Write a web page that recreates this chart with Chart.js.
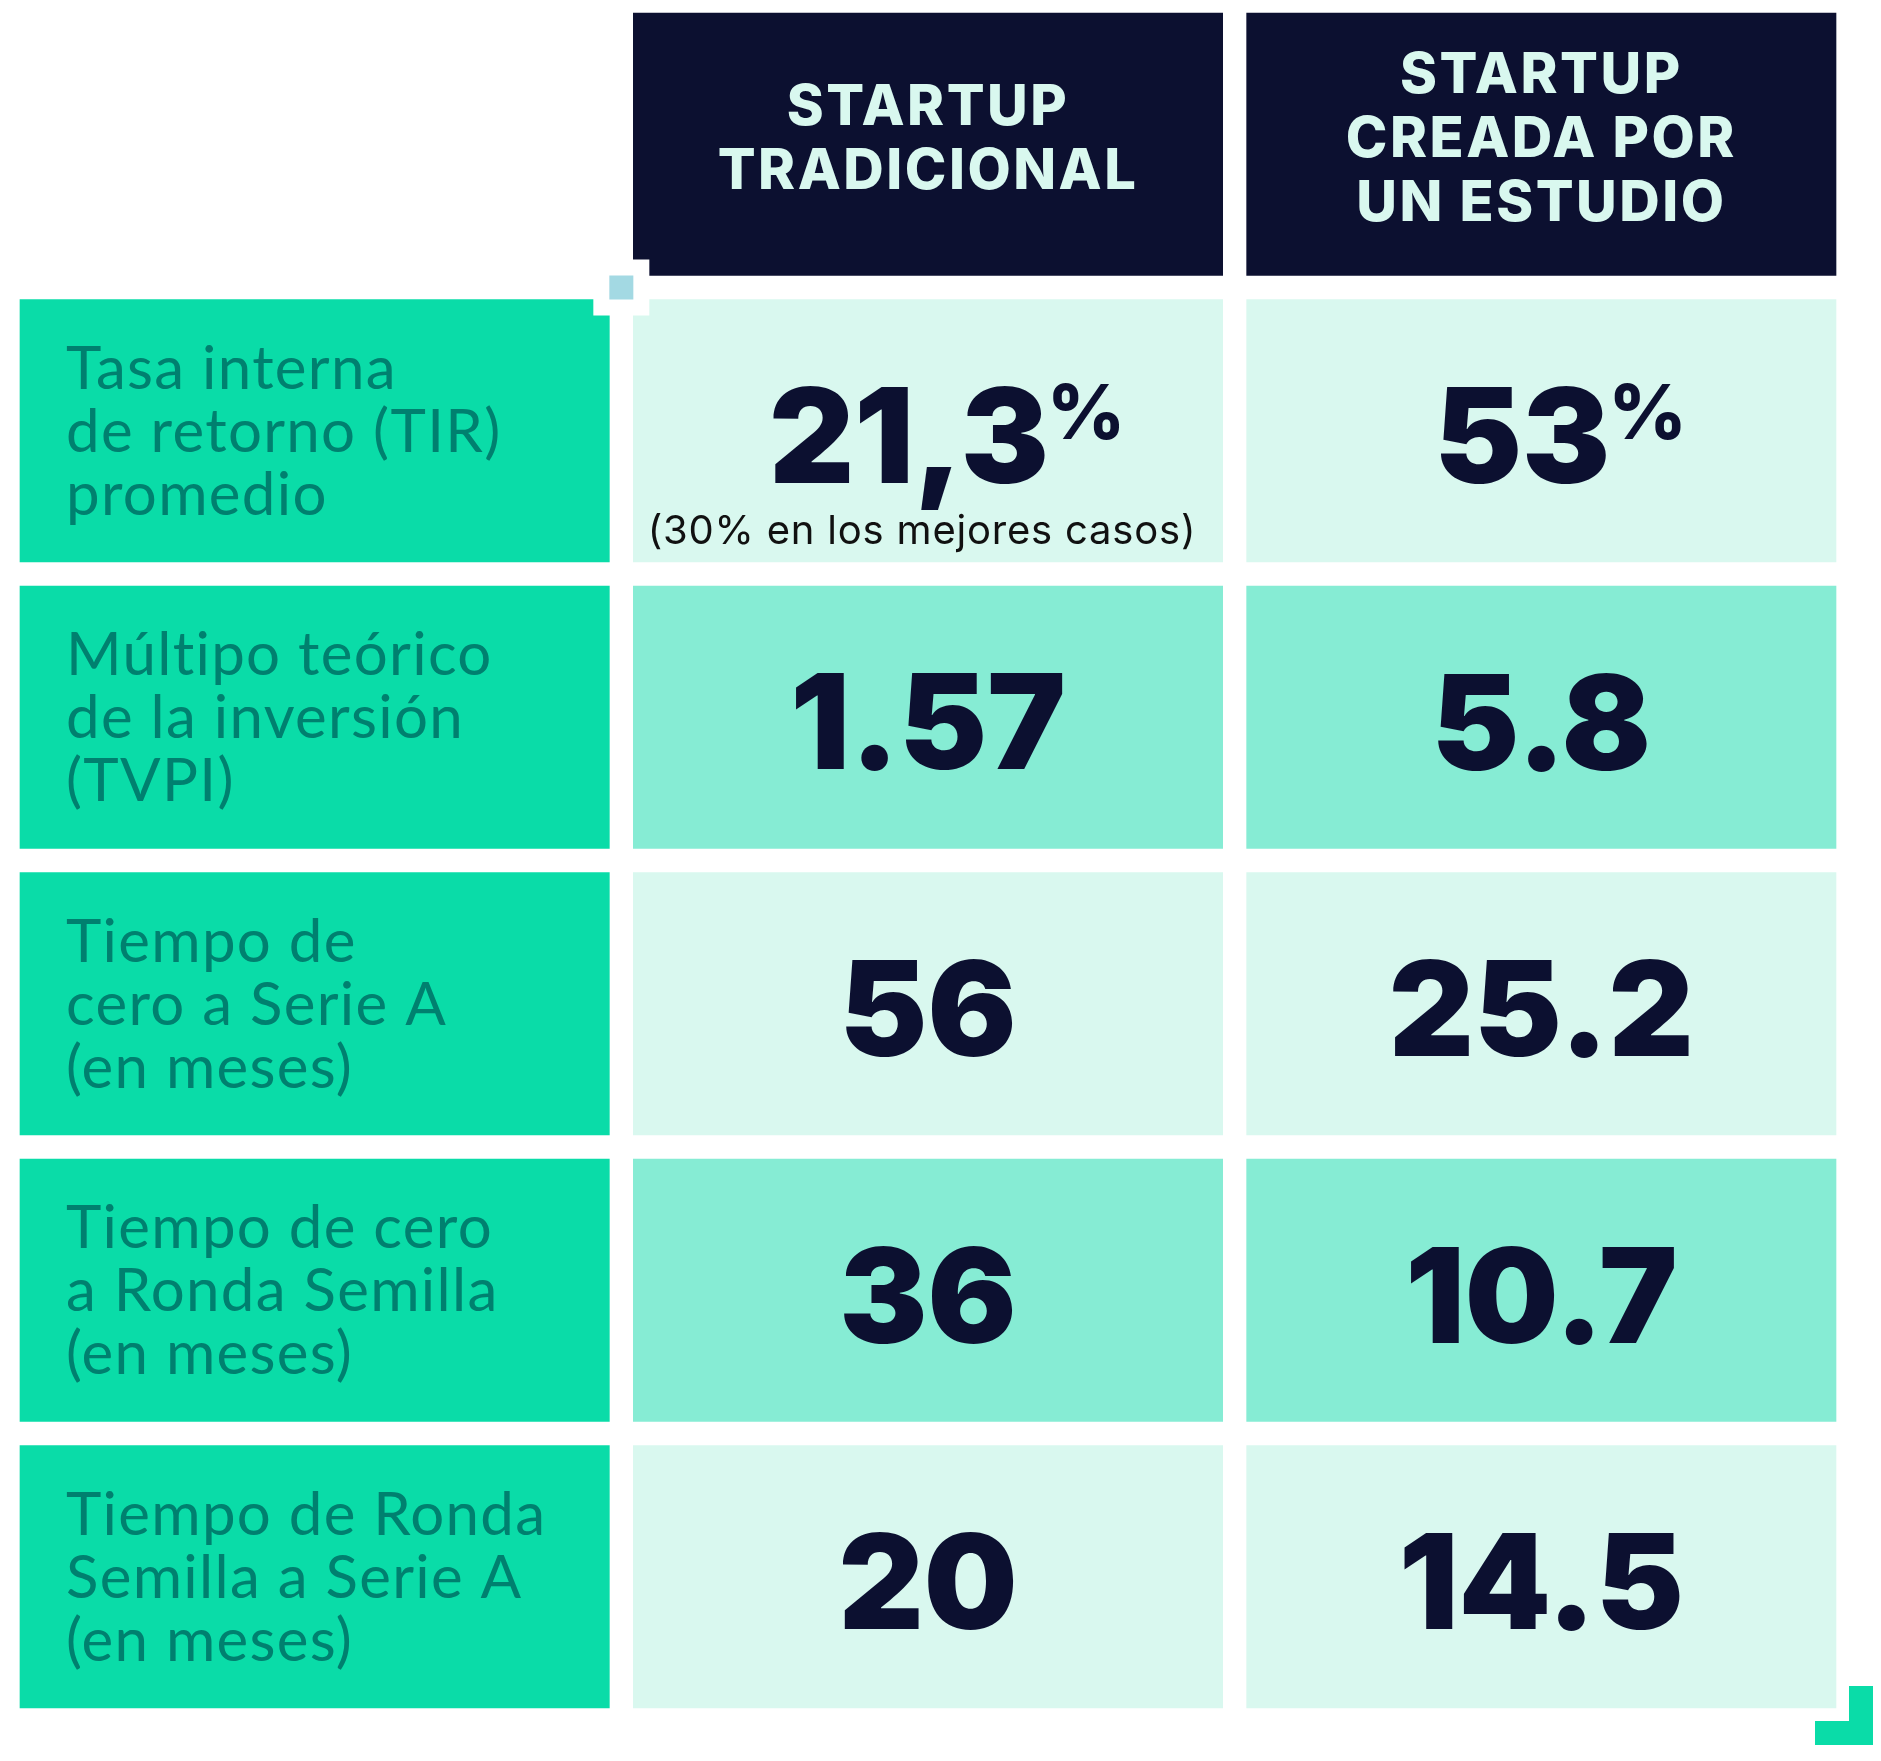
<!DOCTYPE html>
<html lang="es">
<head>
<meta charset="utf-8">
<title>Startup tradicional vs. startup creada por un estudio</title>
<script src="https://cdn.jsdelivr.net/npm/chart.js@4.4.1/dist/chart.umd.min.js"></script>
<style>
  html, body { margin: 0; padding: 0; background: #fff; }
  #wrap { position: relative; width: 1881px; height: 1761px; }
</style>
</head>
<body>
<div id="wrap"><canvas id="chart"></canvas></div>
<script>
// Datos de la tabla
const columnas = [['STARTUP', 'TRADICIONAL'], ['STARTUP', 'CREADA POR', 'UN ESTUDIO']];
const filas = [
  ['Tasa interna', 'de retorno (TIR)', 'promedio'],
  ['Múltipo teórico', 'de la inversión', '(TVPI)'],
  ['Tiempo de', 'cero a Serie A', '(en meses)'],
  ['Tiempo de cero', 'a Ronda Semilla', '(en meses)'],
  ['Tiempo de Ronda', 'Semilla a Serie A', '(en meses)']
];
const tradicional = [21.3, 1.57, 56, 36, 20];
const estudio     = [53, 5.8, 25.2, 10.7, 14.5];
const unidades    = ['%', '', '', '', ''];
const notasTradicional = ['(30% en los mejores casos)', '', '', '', ''];

const NAVY = '#0c1030', MENTA = '#d9f8ef', MEDIO = '#86ecd4', VERDE = '#0adca8', TEAL = '#00806f';
const BORDE = 12; // mitad del hueco blanco entre celdas

// % lleva coma decimal (como en el original), el resto punto.
function fmt(v, i) { return unidades[i] === '%' ? String(v).replace('.', ',') : String(v); }

const etiquetasY = [''].concat(filas);
const unaCelda = etiquetasY.map(() => 1);

function celda(chart, d, i) {
  const el = chart.getDatasetMeta(d).data[i];
  const { x, y, base, height } = el.getProps(['x', 'y', 'base', 'height'], true);
  return {
    izq: Math.min(x, base) + BORDE, der: Math.max(x, base) - BORDE,
    arr: y - height / 2 + BORDE, abj: y + height / 2 - BORDE,
    cx: (x + base) / 2, cy: y
  };
}

const textosPlugin = {
  id: 'textos',
  afterDatasetsDraw(chart) {
    const ctx = chart.ctx;
    ctx.save();
    ctx.textBaseline = 'alphabetic';

    // Cabeceras
    columnas.forEach((lineas, c) => {
      const k = celda(chart, c + 1, 0);
      ctx.font = '800 56px Inter, sans-serif';
      ctx.letterSpacing = '2.5px';
      ctx.fillStyle = MENTA;
      ctx.textAlign = 'center';
      const lh = 64;
      const primera = k.cy - 7 + 20 - (lineas.length - 1) * lh / 2;
      lineas.forEach((t, j) => ctx.fillText(t, k.cx, primera + j * lh));
    });

    // Etiquetas de fila
    filas.forEach((lineas, r) => {
      const k = celda(chart, 0, r + 1);
      ctx.font = '400 60px Lato, sans-serif';
      ctx.letterSpacing = '1.3px';
      ctx.fillStyle = TEAL;
      ctx.textAlign = 'left';
      const lh = 63;
      const primera = k.cy + 21 - (lineas.length - 1) * lh / 2;
      lineas.forEach((t, j) => ctx.fillText(t, k.izq + 46, primera + j * lh));
    });
    ctx.letterSpacing = '0px';

    // Valores
    [tradicional, estudio].forEach((serie, c) => {
      serie.forEach((v, r) => {
        const k = celda(chart, c + 1, r + 1);
        const txt = fmt(v, r);
        ctx.font = '900 132px Inter, sans-serif';
        const m = ctx.measureText(txt);
        const cap = m.actualBoundingBoxAscent;
        let wSup = 0, gap = 0;
        if (unidades[r]) {
          ctx.font = '800 76px Inter, sans-serif';
          wSup = ctx.measureText(unidades[r]).width; gap = -2;
        }
        const x0 = k.cx - m.width / 2 - (wSup + gap) / 4;
        const base = k.cy + cap / 2 + 4;
        ctx.fillStyle = NAVY;
        ctx.textAlign = 'left';
        ctx.font = '900 132px Inter, sans-serif';
        ctx.fillText(txt, x0, base);
        if (unidades[r]) {
          ctx.font = '800 76px Inter, sans-serif';
          const ms = ctx.measureText(unidades[r]);
          ctx.fillText(unidades[r], x0 + m.width + gap, base - cap - 3 + ms.actualBoundingBoxAscent);
        }
        const nota = c === 0 ? notasTradicional[r] : '';
        if (nota) {
          ctx.font = '400 40px Inter, sans-serif';
          ctx.letterSpacing = '0.8px';
          ctx.fillStyle = '#111';
          ctx.textAlign = 'center';
          ctx.fillText(nota, k.cx - 6, base + 61);
          ctx.letterSpacing = '0px';
        }
      });
    });
    ctx.restore();
  },
  afterDraw(chart) {
    const ctx = chart.ctx;
    ctx.save();
    // Cuadro celeste en el cruce cabecera / primera fila
    const cab = celda(chart, 1, 0), lab = celda(chart, 0, 1), val = celda(chart, 1, 1);
    const x1 = lab.der, x2 = val.izq, y1 = cab.abj, y2 = val.arr;
    ctx.fillStyle = '#fff';
    ctx.fillRect(x1 - 16, y1 - 16, (x2 - x1) + 32, (y2 - y1) + 32);
    ctx.fillStyle = '#a3d9e3';
    ctx.fillRect(x1, y1, x2 - x1, y2 - y1);
    // Esquina verde abajo a la derecha
    const ult = celda(chart, 2, filas.length);
    ctx.fillStyle = VERDE;
    ctx.fillRect(ult.der + 13, ult.abj - 22, 24, 59);
    ctx.fillRect(ult.der - 21, ult.abj + 13, 58, 24);
    ctx.restore();
  }
};

const colorValor = c => (c.dataIndex === 0 ? NAVY : (c.dataIndex % 2 === 1 ? MENTA : MEDIO));

new Chart(document.getElementById('chart'), {
  type: 'bar',
  plugins: [textosPlugin],
  data: {
    labels: etiquetasY,
    datasets: [
      { label: 'Indicador', data: unaCelda, backgroundColor: c => c.dataIndex === 0 ? 'rgba(0,0,0,0)' : VERDE },
      { label: columnas[0].join(' '), data: unaCelda, backgroundColor: colorValor },
      { label: columnas[1].join(' '), data: unaCelda, backgroundColor: colorValor }
    ]
  },
  options: {
    indexAxis: 'y',
    responsive: true, maintainAspectRatio: false, animation: false,
    layout: { padding: { left: 8, right: 33, top: 1, bottom: 41 } },
    datasets: { bar: { borderColor: '#fff', borderWidth: BORDE, borderSkipped: false, barPercentage: 1, categoryPercentage: 1 } },
    plugins: { legend: { display: false }, tooltip: { enabled: false }, title: { display: false } },
    scales: {
      x: { type: 'linear', min: 0, max: 3, stacked: true, display: false },
      y: { type: 'category', stacked: true, display: false }
    }
  }
});
</script>
</body>
</html>
